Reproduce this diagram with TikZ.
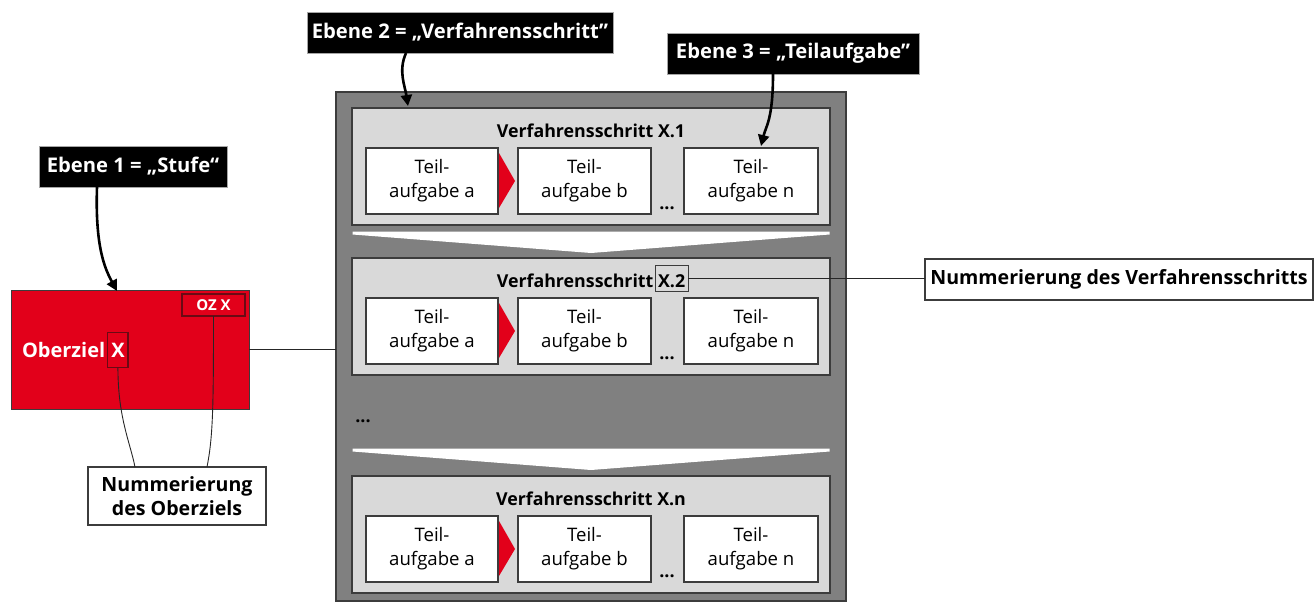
\documentclass[tikz,border=0pt]{standalone}
\usepackage{fontspec}
\setmainfont{Open Sans}
\usetikzlibrary{arrows.meta,calc,fit}

\definecolor{ozred}{HTML}{E2001A}
\definecolor{ozdark}{HTML}{6A0A14}
\definecolor{boxline}{HTML}{3C3C3C}
\definecolor{stepgray}{HTML}{D9D9D9}
\definecolor{framegray}{HTML}{808080}

\begin{document}
\begin{tikzpicture}[x=1pt,y=-1pt,
  every node/.style={inner sep=0pt,outer sep=0pt},
  levelbox/.style={fill=black,draw=gray!70,line width=0.8pt,text=white,
    font=\bfseries\fontsize{20.2}{23}\selectfont,minimum height=41pt},
  levelarrow/.style={line width=2.6pt,-{Triangle[length=11pt,width=11pt]}},
  framebox/.style={fill=framegray,draw=boxline,line width=1.2pt},
  stepbox/.style={fill=stepgray,draw=boxline,line width=1.2pt,
    minimum width=478pt,minimum height=117pt},
  steptitle/.style={font=\bfseries\fontsize{17.8}{20}\selectfont},
  taskbox/.style={fill=white,draw=boxline,line width=1.2pt,
    minimum height=66pt,align=center,
    font=\fontsize{18.6}{24}\selectfont},
  dots/.style={font=\bfseries\fontsize{18}{20}\selectfont},
  notebox/.style={fill=white,draw=boxline,line width=1.2pt,
    font=\bfseries\fontsize{19.6}{24.5}\selectfont,align=center},
  thinline/.style={draw=black!85,line width=0.9pt},
  chevron/.style={fill=white},
  flow/.style={fill=ozred}
]
\useasboundingbox (0,0) rectangle (1314,602);

% Level labels
\node[levelbox,minimum width=188pt] (lvl1) at (133,166.5) {Ebene 1 = „Stufe“};
\node[levelbox,minimum width=306pt] (lvl2) at (460,32.5) {Ebene 2 = „Verfahrensschritt”};
\node[levelbox,minimum width=252pt] (lvl3) at (793,53.5) {Ebene 3 = „Teilaufgabe”};

% Outer frame holding the process steps
\node[framebox,minimum width=510pt,minimum height=509pt] (frame) at (591,346.5) {};

% Process steps with their subtasks
\foreach \k/\top in {1/108,2/258,3/476}{
  \node[stepbox] (step\k) at (591,\top+58.5) {};
  \node[taskbox,minimum width=132pt] (ta\k) at (432,\top+73) {Teil-\\aufgabe a};
  \node[taskbox,minimum width=133pt] (tb\k) at (584.5,\top+73) {Teil-\\aufgabe b};
  \node[taskbox,minimum width=134pt] (tn\k) at (751,\top+73) {Teil-\\aufgabe n};
  \fill[flow] ($(ta\k.north east)+(1,5)$) -- ($(ta\k.east)+(17,0)$)
     -- ($(ta\k.south east)+(1,-6)$) -- cycle;
  \node[dots,anchor=base] (dt\k) at (667,\top+101) {...};
}
\node[steptitle,anchor=base] (title1) at (591,137) {Verfahrensschritt X.1};
\node[steptitle,anchor=base] (title3) at (591,505) {Verfahrensschritt X.n};
\node[steptitle,anchor=base] (title2) at (591,287) {Verfahrensschritt \phantom{X.2}};
\node[steptitle,anchor=base east] (title2x) at (title2.base east) {X.2};
\node[draw=boxline,line width=1pt,fit=(title2x),inner xsep=3pt,inner ysep=6.5pt,
  yshift=2.5pt] (numbox) {};

% Transition chevrons
\fill[chevron] (352.5,231.5) -- (829.5,231.5) -- (829.5,234.5) -- (591,253)
  -- (352.5,234.5) -- cycle;
\fill[chevron] (352.5,448.5) -- (829.5,448.5) -- (829.5,451.5) -- (591,470)
  -- (352.5,451.5) -- cycle;
\node[dots,anchor=base] (dtmid) at (363,422) {...};

% Goal box
\node[fill=ozred,draw=boxline,line width=1pt,minimum width=238pt,minimum height=119pt]
  (goal) at (130,349.5) {};
\node[anchor=base west,text=white,font=\bfseries\fontsize{20}{24}\selectfont]
  (goaltext) at (22,357) {Oberziel};
\node[anchor=base west,text=white,font=\bfseries\fontsize{20}{24}\selectfont]
  (goalx) at ($(goaltext.base east)+(6,0)$) {X};
\node[draw=ozdark,line width=1.3pt,fit=(goalx),inner xsep=3.5pt,inner ysep=10.5pt]
  (goalxbox) {};
\node[draw=ozdark,line width=1.3pt,fill=ozred,text=white,
  font=\bfseries\fontsize{15}{18}\selectfont,minimum width=63pt,minimum height=22pt]
  (badge) at (213.5,305) {OZ X};

% Explanatory notes
\node[notebox,minimum width=178pt,minimum height=58pt] (notegoal) at (177,496)
  {Nummerierung\\des Oberziels};
\node[notebox,minimum width=388pt,minimum height=41pt] (notestep) at (1119,279.5)
  {Nummerierung des Verfahrensschritts};

% Connectors
\draw[thinline] (goal.east) -- (goal.east -| frame.west);
\draw[thinline] (numbox.east) -- (numbox.east -| notestep.west);
\coordinate (ng1) at ($(notegoal.north west)+(47,0)$);
\coordinate (ng2) at ($(notegoal.north west)+(119,0)$);
\draw[thinline] (goalxbox.south) .. controls +(0,50) and +(-5,-25) .. (ng1);
\draw[thinline] (badge.south) .. controls +(0,90) and +(6,-30) .. (ng2);

% Level arrows
\coordinate (a1s) at ($(lvl1.south west)+(58,0)$);
\coordinate (a1e) at ($(goal.north west)+(106,1)$);
\draw[levelarrow] (a1s) .. controls +(-2,60) and +(-12,-22) .. (a1e);
\coordinate (a2s) at ($(lvl2.south west)+(99,0)$);
\coordinate (a2e) at ($(frame.north west)+(72,14)$);
\draw[levelarrow] (a2s) .. controls +(-8,18) and +(-3,-20) .. (a2e);
\coordinate (a3s) at ($(lvl3.south west)+(106,0)$);
\coordinate (a3e) at ($(tn1.north)+(10,-2)$);
\draw[levelarrow] (a3s) .. controls +(0,45) and +(5,-20) .. (a3e);
\end{tikzpicture}
\end{document}
